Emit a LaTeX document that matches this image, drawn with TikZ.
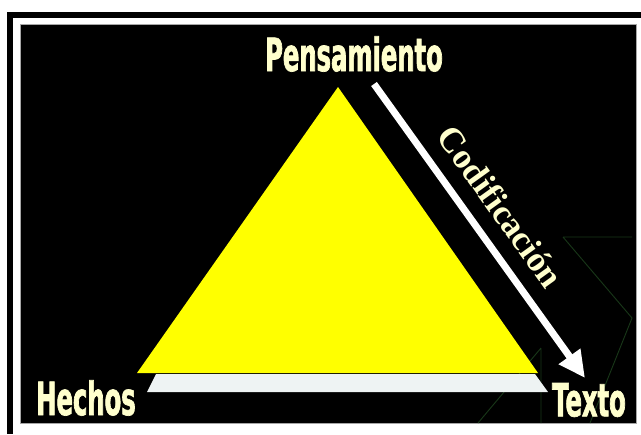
\documentclass[tikz,border=0pt]{standalone}
\usepackage{xcolor}
\usepackage{fontspec}
\usepackage{tikz}
\usetikzlibrary{arrows.meta}

\newfontfamily\etiqfont[FakeStretch=0.53,FakeBold=1.5]{DejaVu Sans}
\newfontfamily\codfont{Liberation Serif}
\definecolor{crema}{RGB}{255,255,205}
\definecolor{amarillo}{RGB}{255,255,0}
\definecolor{blancoazul}{RGB}{238,243,243}
\definecolor{verdeosc}{RGB}{24,54,24}

\begin{document}
\begin{tikzpicture}[x=0.03cm,y=-0.03cm,
  etiqueta/.style={text=crema, inner sep=0pt,
    font=\etiqfont\bfseries\fontsize{39}{39}\selectfont},
  flecha/.style={draw=white, line width=6pt,
    -{Triangle[length=0.8cm,width=0.75cm]}}]
\useasboundingbox (0,0) rectangle (641,434);

%% marco y fondo negro %%%%%%%
\fill[black] (7,12) rectangle (641,18);
\fill[black] (7,12) rectangle (13,434);
\fill[black, draw=gray!70, line width=0.6pt] (20,24) rectangle (636,423);

%% lineas verdes del fondo
\draw[verdeosc, line width=0.8pt] (563,237) -- (632,237)
  (563,237) -- (632,318) -- (590,423)
  (541,348) -- (541,423) (541,348) -- (478,423);

%% triangulo (x1 , y1)(x2 , y2)(x3 , y3)
\fill[blancoazul] (156,374) -- (535,374) -- (548,392) -- (147,392) -- cycle;
\fill[amarillo] (137,373) -- (338,87) -- (538,373) -- cycle;

%% vertices %%%%%%%%%%%%%%%%%%%
\node[etiqueta] (pens) at (354,54) {Pensamiento};
\node[etiqueta] (hech) at (86,398) {Hechos};
\node[etiqueta] (texto) at (589,400) {Texto};

%% flecha de codificacion
\coordinate (codini) at (374,84);
\coordinate (codfin) at (585,378);
\draw[flecha] (codini) -- (codfin)
  node[pos=0.48, sloped, above=3.5mm, text=crema,
    font=\codfont\bfseries\fontsize{30}{30}\selectfont] {Codificación};
\end{tikzpicture}
\end{document}
